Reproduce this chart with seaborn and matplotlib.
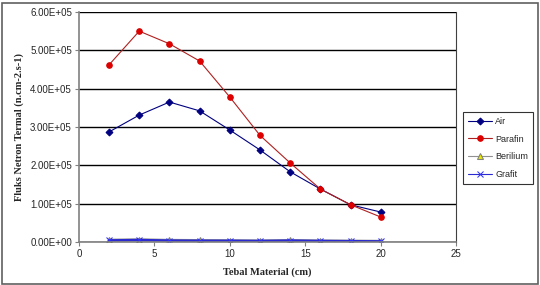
import numpy as np
import pandas as pd
import matplotlib
matplotlib.use("Agg")
import matplotlib.pyplot as plt
import seaborn as sns
from matplotlib.patches import Rectangle
from matplotlib.ticker import FuncFormatter

tebal = [2, 4, 6, 8, 10, 12, 14, 16, 18, 20]
air = [2.87e5, 3.31e5, 3.65e5, 3.42e5, 2.92e5, 2.40e5, 1.83e5, 1.38e5, 0.97e5, 0.78e5]
parafin = [4.62e5, 5.50e5, 5.17e5, 4.72e5, 3.78e5, 2.78e5, 2.06e5, 1.38e5, 0.97e5, 0.65e5]
berilium = [5.0e3, 6.0e3, 4.5e3, 4.0e3, 3.5e3, 3.0e3, 4.0e3, 3.0e3, 2.5e3, 2.0e3]
grafit = [4.0e3, 5.0e3, 3.5e3, 3.0e3, 3.0e3, 2.5e3, 3.5e3, 2.5e3, 2.0e3, 1.5e3]

sns.set_style("white")
plt.rcParams['font.family'] = ['Liberation Sans', 'DejaVu Sans']

fig = plt.figure(figsize=(5.4, 2.85), dpi=100)
ax = fig.add_axes([0.146, 0.151, 0.699, 0.807])

series = [
    ("Air", air, dict(color="#000080", marker="D", markersize=3.5, mfc="#000080", mec="#000080", lw=0.8)),
    ("Parafin", parafin, dict(color="#b02020", marker="o", markersize=4, mfc="#dd0000", mec="#dd0000", lw=0.8)),
    ("Berilium", berilium, dict(color="#909090", marker="^", markersize=4, mfc="#e8e800", mec="#808080", lw=2.0)),
    ("Grafit", grafit, dict(color="#2a2ad0", marker="x", markersize=4, mec="#3030ff", lw=1.8)),
]
for name, vals, kw in series:
    df = pd.DataFrame({"x": tebal, "y": vals})
    sns.lineplot(data=df, x="x", y="y", ax=ax, label=name, **kw)

ax.set_xlim(0, 25)
ax.set_ylim(0, 6e5)
ax.set_xticks(range(0, 26, 5))
ax.set_yticks(np.arange(0, 6.01e5, 1e5))
ax.yaxis.set_major_formatter(FuncFormatter(lambda v, p: f"{v:.2E}"))
ax.yaxis.grid(True, color="black", lw=1.0)
ax.xaxis.grid(False)
ax.tick_params(axis="both", labelsize=7, length=3, width=0.8, color="#808080", direction="out", pad=2)
ax.tick_params(axis="y", left=True)
ax.tick_params(axis="x", bottom=True)
for side in ["left", "bottom"]:
    ax.spines[side].set_color("#808080")
    ax.spines[side].set_linewidth(1.2)
ax.spines["right"].set_color("#404040")
ax.spines["right"].set_linewidth(0.8)
ax.spines["top"].set_visible(False)

ax.set_xlabel("Tebal Material (cm)", family="Liberation Serif", fontweight="bold", fontsize=7.5, labelpad=6)
ax.set_ylabel("Fluks Netron Termal (n.cm-2.s-1)", family="Liberation Serif", fontweight="bold", fontsize=7.5, labelpad=4)

leg = ax.legend(loc="upper left", bbox_to_anchor=(1.018, 0.565), fontsize=6.5, frameon=True,
                fancybox=False, edgecolor="black", handlelength=2.6, labelspacing=0.95,
                borderpad=0.55, handletextpad=0.4, borderaxespad=0)
leg.get_frame().set_linewidth(0.8)
for h in leg.get_lines():
    h.set_linewidth(0.8)

fig.patches.append(Rectangle((0.004, 0.004), 0.992, 0.985, transform=fig.transFigure,
                             fill=False, edgecolor="#606060", lw=1.2))

fig.savefig("out.png", dpi=100)
